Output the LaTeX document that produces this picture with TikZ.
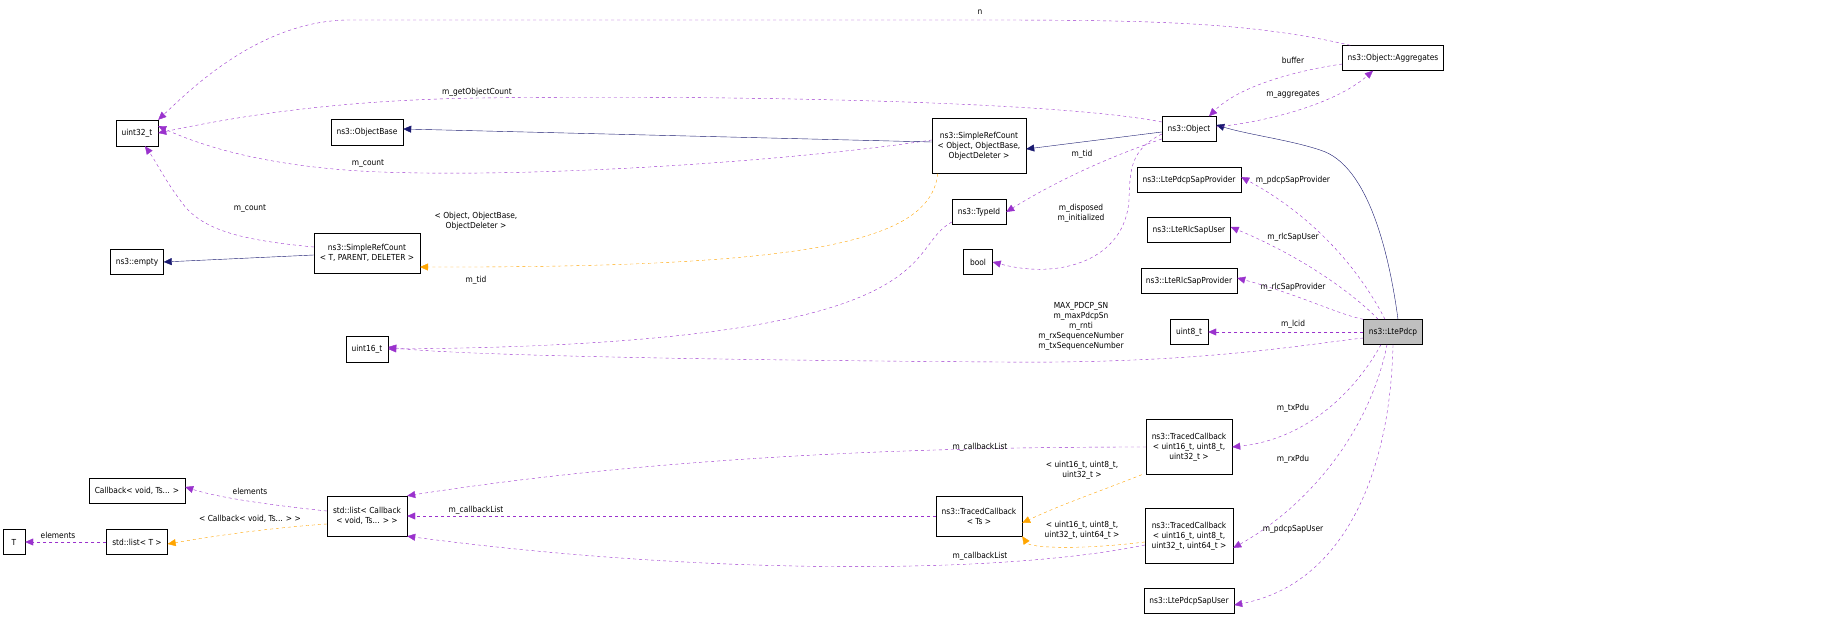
\documentclass[tikz,border=0pt]{standalone}
\usepackage{fontspec}
\setmainfont{DejaVu Sans Condensed}
\usetikzlibrary{arrows.meta}
\definecolor{pur}{HTML}{9A32CD}
\definecolor{nav}{HTML}{191970}
\definecolor{org}{HTML}{FFA500}
\begin{document}
\begin{tikzpicture}[x=1pt,y=-1pt,
 font=\fontsize{8.3}{10}\selectfont,
 box/.style={draw,fill=white,inner sep=0pt,align=center},
 mem/.style={pur,dashed,-{Triangle[length=8pt,width=7pt]}},
 inh/.style={nav,-{Triangle[length=8pt,width=7pt]}},
 tpl/.style={org,dashed,-{Triangle[length=8pt,width=7pt]}},
 lb/.style={inner sep=0pt,align=center,font=\fontsize{8.3}{10}\selectfont}]
\useasboundingbox (0,0) rectangle (1848,620);
\fill[white] (0,0) rectangle (1848,620);
% nodes
\node[box,minimum width=42,minimum height=26] (u32) at (137,133) {uint32\_t};
\node[box,minimum width=72,minimum height=26] (ob) at (367,132) {ns3::ObjectBase};
\node[box,minimum width=53,minimum height=25] (emp) at (137,262) {ns3::empty};
\node[box,minimum width=106,minimum height=40] (srt) at (367,253) {ns3::SimpleRefCount\\{< T, PARENT, DELETER >}};
\node[box,minimum width=94,minimum height=55] (sro) at (979,146) {ns3::SimpleRefCount\\{< Object, ObjectBase,}\\ObjectDeleter >};
\node[box,minimum width=54,minimum height=25] (obj) at (1189,129) {ns3::Object};
\node[box,minimum width=101,minimum height=25] (agg) at (1393,58) {ns3::Object::Aggregates};
\node[box,minimum width=54,minimum height=25] (tid) at (979,212) {ns3::TypeId};
\node[box,minimum width=29,minimum height=25] (bool) at (978,262) {bool};
\node[box,minimum width=104,minimum height=25] (psp) at (1189,180) {ns3::LtePdcpSapProvider};
\node[box,minimum width=83,minimum height=25] (rsu) at (1189,230) {ns3::LteRlcSapUser};
\node[box,minimum width=96,minimum height=25] (rsp) at (1189,281) {ns3::LteRlcSapProvider};
\node[box,minimum width=38,minimum height=25] (u8) at (1189,332) {uint8\_t};
\node[box,fill={rgb,255:red,191;green,191;blue,191},minimum width=59,minimum height=25] (pdcp) at (1393,332) {ns3::LtePdcp};
\node[box,minimum width=42,minimum height=26] (u16) at (367,349) {uint16\_t};
\node[box,minimum width=86,minimum height=55] (tc3) at (1189,447) {ns3::TracedCallback\\{< uint16\_t, uint8\_t,}\\uint32\_t >};
\node[box,minimum width=86,minimum height=40] (tcs) at (979,516) {ns3::TracedCallback\\{< Ts >}};
\node[box,minimum width=88,minimum height=55] (tc4) at (1189,536) {ns3::TracedCallback\\{< uint16\_t, uint8\_t,}\\uint32\_t, uint64\_t >};
\node[box,minimum width=90,minimum height=25] (psu) at (1189,601) {ns3::LtePdcpSapUser};
\node[box,minimum width=80,minimum height=40] (lst) at (367,516) {std::list< Callback\\{< void, Ts... > >}};
\node[box,minimum width=96,minimum height=25] (cb) at (137,491) {Callback< void, Ts... >};
\node[box,minimum width=61,minimum height=25] (lt) at (137,542) {std::list< T >};
\node[box,minimum width=22,minimum height=25] (T) at (14,542) {T};
% edges
\draw[mem] (agg.north west)++(8,0) .. controls (1250,22) and (1150,20) .. (980,20) -- (350,20) .. controls (260,20) and (190,90) .. (u32.north east);
\node[lb] at (980,12) {n};
\draw[mem] (obj.west)++(0,-7) .. controls (1050,100) and (700,95) .. (480,98) .. controls (330,100) and (230,118) .. (u32.east);
\node[lb] at (477,92) {m\_getObjectCount};
\draw[mem] (sro.west)++(0,-6) .. controls (800,160) and (550,178) .. (380,172) .. controls (280,168) and (210,150) .. ([yshift=7]u32.east);
\node[lb] at (368,164) {m\_count};
\draw[mem] (srt.west)++(0,-6) .. controls (240,240) and (200,230) .. (180,200) .. controls (165,180) and (155,160) .. ([xshift=8]u32.south);
\node[lb] at (250,209) {m\_count};
\draw[inh] (srt.west)++(0,2) -- (emp.east);
\draw[inh] (sro.west)++(0,-4) -- ([yshift=3]ob.east);
\draw[inh] (obj.west)++(0,3) -- ([yshift=-3]sro.east);
\draw[inh] (pdcp.north)++(5,0) .. controls (1390,260) and (1370,165) .. (1320,150) .. controls (1290,140) and (1250,135) .. ([yshift=4]obj.east);
\draw[tpl] (sro.south west)++(6,0) .. controls (930,240) and (820,268) .. (420,267);
\node[lb] at (476,221) {< Object, ObjectBase,\\ObjectDeleter >};
\draw[mem] (obj.west)++(0,10) .. controls (1100,160) and (1050,185) .. (tid.east);
\node[lb] at (1082,154) {m\_tid};
\draw[mem] (obj.west)++(0,5) .. controls (1130,150) and (1130,170) .. (1129,200) .. controls (1125,260) and (1060,280) .. (bool.east);
\node[lb] at (1081,213) {m\_disposed\\m\_initialized};
\draw[mem] (obj.east)++(0,-2) .. controls (1280,120) and (1340,100) .. ([xshift=-20]agg.south);
\node[lb] at (1293,95) {m\_aggregates};
\draw[mem] (agg.west)++(0,6) .. controls (1300,70) and (1240,85) .. ([xshift=20]obj.north);
\node[lb] at (1293,60) {buffer};
\draw[mem] (tid.west)++(0,10) .. controls (900,250) and (960,345) .. (u16.east);
\node[lb] at (476,280) {m\_tid};
\draw[mem] (pdcp.west)++(0,6) .. controls (1300,345) and (1200,364) .. (1000,362) .. controls (700,360) and (450,355) .. ([yshift=2]u16.east);
\node[lb] at (1081,326) {MAX\_PDCP\_SN\\m\_maxPdcpSn\\m\_rnti\\m\_rxSequenceNumber\\m\_txSequenceNumber};
\draw[mem] (pdcp.north)++(-8,0) .. controls (1370,290) and (1330,225) .. ([yshift=3]psp.east);
\node[lb] at (1293,180) {m\_pdcpSapProvider};
\draw[mem] (pdcp.north)++(-15,0) .. controls (1360,300) and (1310,260) .. ([yshift=3]rsu.east);
\node[lb] at (1293,237) {m\_rlcSapUser};
\draw[mem] (pdcp.north west) .. controls (1340,315) and (1300,295) .. ([yshift=3]rsp.east);
\node[lb] at (1293,287) {m\_rlcSapProvider};
\draw[mem] (pdcp.west) -- (u8.east);
\node[lb] at (1293,324) {m\_lcid};
\draw[mem] (pdcp.south)++(-12,0) .. controls (1350,400) and (1300,440) .. (tc3.east);
\node[lb] at (1293,408) {m\_txPdu};
\draw[mem] (pdcp.south)++(-6,0) .. controls (1370,430) and (1310,505) .. ([yshift=-12]tc4.east);
\node[lb] at (1293,459) {m\_rxPdu};
\draw[mem] (pdcp.south)++(0,0) .. controls (1390,480) and (1340,585) .. ([yshift=-4]psu.east);
\node[lb] at (1293,529) {m\_pdcpSapUser};
\draw[mem] (tc3.west) .. controls (1000,447) and (700,450) .. (lst.north east);
\node[lb] at (980,447) {m\_callbackList};
\draw[mem] (tcs.west) -- (lst.east);
\node[lb] at (476,510) {m\_callbackList};
\draw[mem] (tc4.west)++(0,9) .. controls (1000,575) and (700,575) .. (lst.south east);
\node[lb] at (980,556) {m\_callbackList};
\draw[tpl] (tc3.south west)++(-4,0) .. controls (1090,495) and (1060,505) .. ([yshift=-7]tcs.east);
\node[lb] at (1082,470) {< uint16\_t, uint8\_t,\\uint32\_t >};
\draw[tpl] (tc4.west)++(0,6) .. controls (1080,550) and (1030,548) .. (tcs.south east);
\node[lb] at (1082,530) {< uint16\_t, uint8\_t,\\uint32\_t, uint64\_t >};
\draw[mem] (lst.west)++(0,-5) .. controls (270,505) and (220,498) .. ([yshift=4]cb.east);
\node[lb] at (250,491) {elements};
\draw[mem,tpl] (lst.west)++(0,8) .. controls (270,528) and (220,535) .. ([yshift=-2]lt.east);
\node[lb] at (250,519) {< Callback< void, Ts... > >};
\draw[mem] (lt.west) -- (T.east);
\node[lb] at (58,535) {elements};
\end{tikzpicture}
\end{document}
